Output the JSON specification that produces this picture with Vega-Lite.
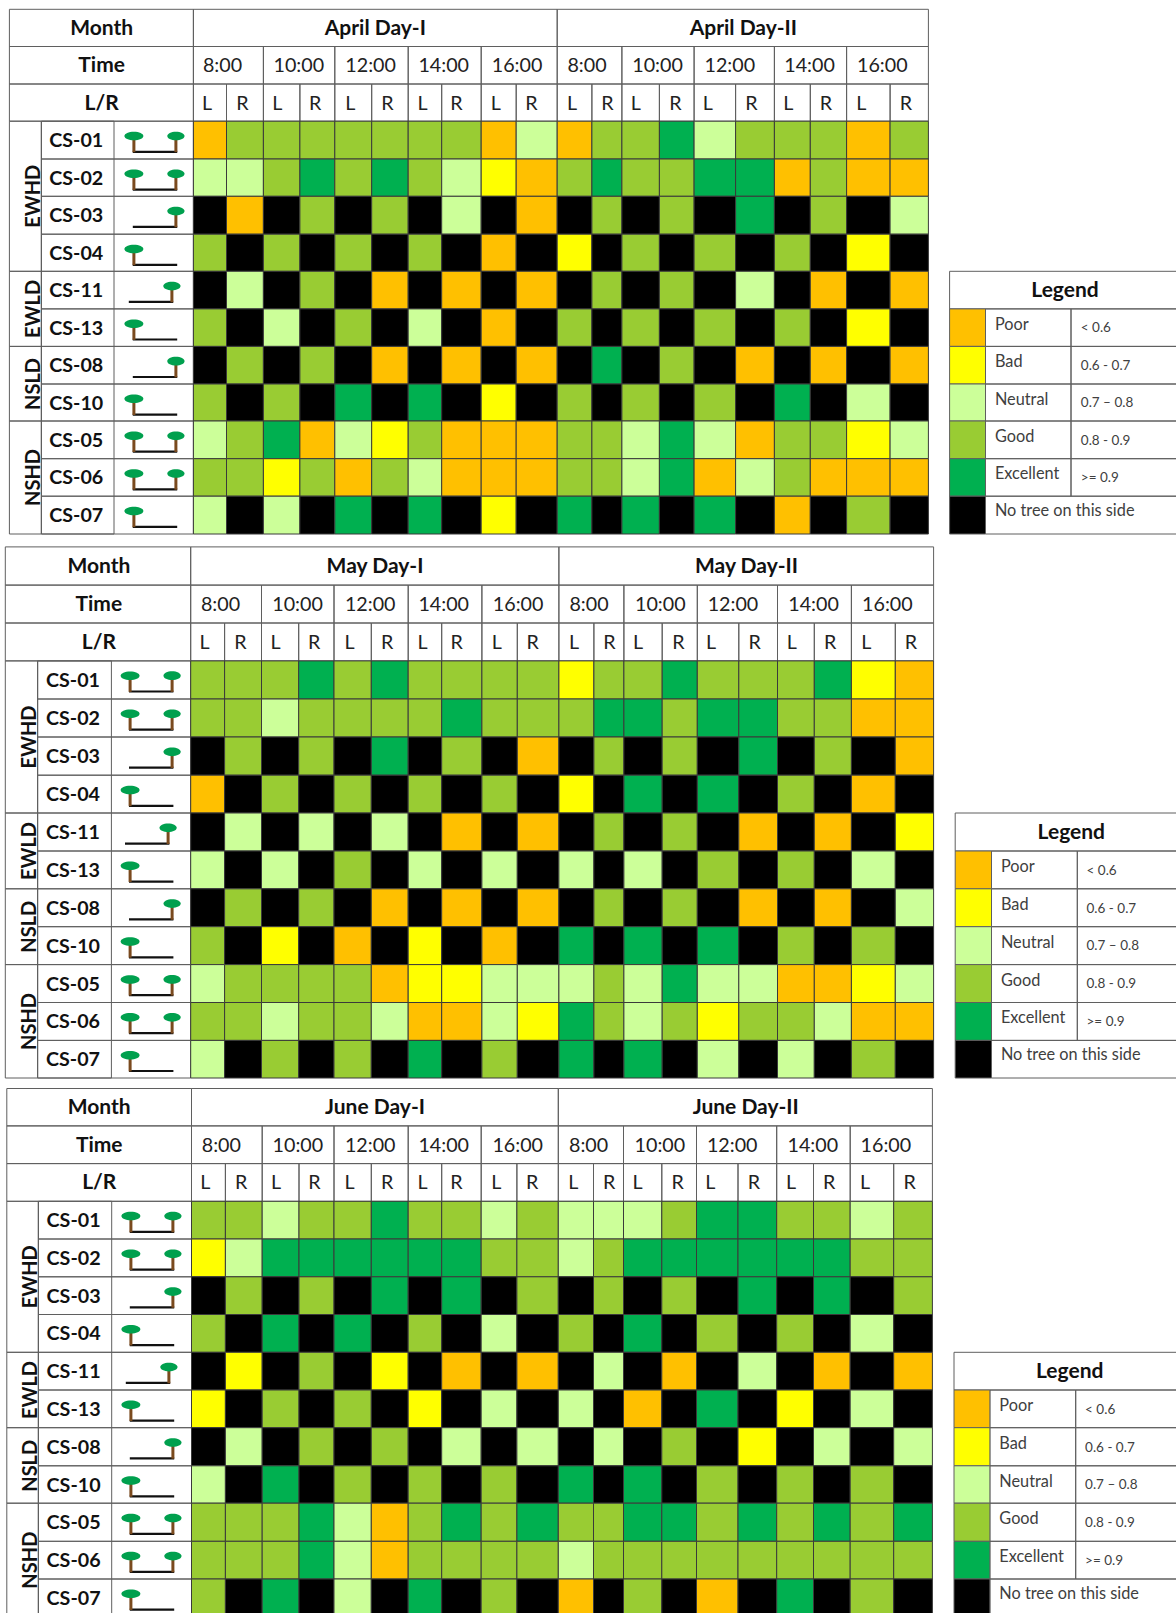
{"$schema":"https://vega.github.io/schema/vega-lite/v6.json","width":1176,"height":1613,"padding":0,"autosize":{"type":"none"},"background":"white","config":{"view":{"stroke":null}},
"datasets":{
"cells":[
{"c":3,"r":3,"v":"Poor"},{"c":4,"r":3,"v":"Good"},{"c":5,"r":3,"v":"Good"},{"c":6,"r":3,"v":"Good"},{"c":7,"r":3,"v":"Good"},{"c":8,"r":3,"v":"Good"},{"c":9,"r":3,"v":"Good"},{"c":10,"r":3,"v":"Good"},{"c":11,"r":3,"v":"Poor"},{"c":12,"r":3,"v":"Neutral"},{"c":13,"r":3,"v":"Poor"},{"c":14,"r":3,"v":"Good"},{"c":15,"r":3,"v":"Good"},{"c":16,"r":3,"v":"Excellent"},{"c":17,"r":3,"v":"Neutral"},{"c":18,"r":3,"v":"Good"},{"c":19,"r":3,"v":"Good"},{"c":20,"r":3,"v":"Good"},{"c":21,"r":3,"v":"Poor"},{"c":22,"r":3,"v":"Good"},
{"c":3,"r":4,"v":"Neutral"},{"c":4,"r":4,"v":"Neutral"},{"c":5,"r":4,"v":"Good"},{"c":6,"r":4,"v":"Excellent"},{"c":7,"r":4,"v":"Good"},{"c":8,"r":4,"v":"Excellent"},{"c":9,"r":4,"v":"Good"},{"c":10,"r":4,"v":"Neutral"},{"c":11,"r":4,"v":"Bad"},{"c":12,"r":4,"v":"Poor"},{"c":13,"r":4,"v":"Good"},{"c":14,"r":4,"v":"Excellent"},{"c":15,"r":4,"v":"Good"},{"c":16,"r":4,"v":"Good"},{"c":17,"r":4,"v":"Excellent"},{"c":18,"r":4,"v":"Excellent"},{"c":19,"r":4,"v":"Poor"},{"c":20,"r":4,"v":"Good"},{"c":21,"r":4,"v":"Poor"},{"c":22,"r":4,"v":"Poor"},
{"c":3,"r":5,"v":"None"},{"c":4,"r":5,"v":"Poor"},{"c":5,"r":5,"v":"None"},{"c":6,"r":5,"v":"Good"},{"c":7,"r":5,"v":"None"},{"c":8,"r":5,"v":"Good"},{"c":9,"r":5,"v":"None"},{"c":10,"r":5,"v":"Neutral"},{"c":11,"r":5,"v":"None"},{"c":12,"r":5,"v":"Poor"},{"c":13,"r":5,"v":"None"},{"c":14,"r":5,"v":"Good"},{"c":15,"r":5,"v":"None"},{"c":16,"r":5,"v":"Good"},{"c":17,"r":5,"v":"None"},{"c":18,"r":5,"v":"Excellent"},{"c":19,"r":5,"v":"None"},{"c":20,"r":5,"v":"Good"},{"c":21,"r":5,"v":"None"},{"c":22,"r":5,"v":"Neutral"},
{"c":3,"r":6,"v":"Good"},{"c":4,"r":6,"v":"None"},{"c":5,"r":6,"v":"Good"},{"c":6,"r":6,"v":"None"},{"c":7,"r":6,"v":"Good"},{"c":8,"r":6,"v":"None"},{"c":9,"r":6,"v":"Good"},{"c":10,"r":6,"v":"None"},{"c":11,"r":6,"v":"Poor"},{"c":12,"r":6,"v":"None"},{"c":13,"r":6,"v":"Bad"},{"c":14,"r":6,"v":"None"},{"c":15,"r":6,"v":"Good"},{"c":16,"r":6,"v":"None"},{"c":17,"r":6,"v":"Good"},{"c":18,"r":6,"v":"None"},{"c":19,"r":6,"v":"Good"},{"c":20,"r":6,"v":"None"},{"c":21,"r":6,"v":"Bad"},{"c":22,"r":6,"v":"None"},
{"c":3,"r":7,"v":"None"},{"c":4,"r":7,"v":"Neutral"},{"c":5,"r":7,"v":"None"},{"c":6,"r":7,"v":"Good"},{"c":7,"r":7,"v":"None"},{"c":8,"r":7,"v":"Poor"},{"c":9,"r":7,"v":"None"},{"c":10,"r":7,"v":"Poor"},{"c":11,"r":7,"v":"None"},{"c":12,"r":7,"v":"Poor"},{"c":13,"r":7,"v":"None"},{"c":14,"r":7,"v":"Good"},{"c":15,"r":7,"v":"None"},{"c":16,"r":7,"v":"Good"},{"c":17,"r":7,"v":"None"},{"c":18,"r":7,"v":"Neutral"},{"c":19,"r":7,"v":"None"},{"c":20,"r":7,"v":"Poor"},{"c":21,"r":7,"v":"None"},{"c":22,"r":7,"v":"Poor"},
{"c":3,"r":8,"v":"Good"},{"c":4,"r":8,"v":"None"},{"c":5,"r":8,"v":"Neutral"},{"c":6,"r":8,"v":"None"},{"c":7,"r":8,"v":"Good"},{"c":8,"r":8,"v":"None"},{"c":9,"r":8,"v":"Neutral"},{"c":10,"r":8,"v":"None"},{"c":11,"r":8,"v":"Poor"},{"c":12,"r":8,"v":"None"},{"c":13,"r":8,"v":"Good"},{"c":14,"r":8,"v":"None"},{"c":15,"r":8,"v":"Good"},{"c":16,"r":8,"v":"None"},{"c":17,"r":8,"v":"Good"},{"c":18,"r":8,"v":"None"},{"c":19,"r":8,"v":"Good"},{"c":20,"r":8,"v":"None"},{"c":21,"r":8,"v":"Bad"},{"c":22,"r":8,"v":"None"},
{"c":3,"r":9,"v":"None"},{"c":4,"r":9,"v":"Good"},{"c":5,"r":9,"v":"None"},{"c":6,"r":9,"v":"Good"},{"c":7,"r":9,"v":"None"},{"c":8,"r":9,"v":"Poor"},{"c":9,"r":9,"v":"None"},{"c":10,"r":9,"v":"Poor"},{"c":11,"r":9,"v":"None"},{"c":12,"r":9,"v":"Poor"},{"c":13,"r":9,"v":"None"},{"c":14,"r":9,"v":"Excellent"},{"c":15,"r":9,"v":"None"},{"c":16,"r":9,"v":"Good"},{"c":17,"r":9,"v":"None"},{"c":18,"r":9,"v":"Poor"},{"c":19,"r":9,"v":"None"},{"c":20,"r":9,"v":"Poor"},{"c":21,"r":9,"v":"None"},{"c":22,"r":9,"v":"Poor"},
{"c":3,"r":10,"v":"Good"},{"c":4,"r":10,"v":"None"},{"c":5,"r":10,"v":"Good"},{"c":6,"r":10,"v":"None"},{"c":7,"r":10,"v":"Excellent"},{"c":8,"r":10,"v":"None"},{"c":9,"r":10,"v":"Excellent"},{"c":10,"r":10,"v":"None"},{"c":11,"r":10,"v":"Bad"},{"c":12,"r":10,"v":"None"},{"c":13,"r":10,"v":"Good"},{"c":14,"r":10,"v":"None"},{"c":15,"r":10,"v":"Good"},{"c":16,"r":10,"v":"None"},{"c":17,"r":10,"v":"Good"},{"c":18,"r":10,"v":"None"},{"c":19,"r":10,"v":"Excellent"},{"c":20,"r":10,"v":"None"},{"c":21,"r":10,"v":"Neutral"},{"c":22,"r":10,"v":"None"},
{"c":3,"r":11,"v":"Neutral"},{"c":4,"r":11,"v":"Good"},{"c":5,"r":11,"v":"Excellent"},{"c":6,"r":11,"v":"Poor"},{"c":7,"r":11,"v":"Neutral"},{"c":8,"r":11,"v":"Bad"},{"c":9,"r":11,"v":"Good"},{"c":10,"r":11,"v":"Poor"},{"c":11,"r":11,"v":"Poor"},{"c":12,"r":11,"v":"Poor"},{"c":13,"r":11,"v":"Good"},{"c":14,"r":11,"v":"Good"},{"c":15,"r":11,"v":"Neutral"},{"c":16,"r":11,"v":"Excellent"},{"c":17,"r":11,"v":"Neutral"},{"c":18,"r":11,"v":"Poor"},{"c":19,"r":11,"v":"Good"},{"c":20,"r":11,"v":"Good"},{"c":21,"r":11,"v":"Bad"},{"c":22,"r":11,"v":"Neutral"},
{"c":3,"r":12,"v":"Good"},{"c":4,"r":12,"v":"Good"},{"c":5,"r":12,"v":"Bad"},{"c":6,"r":12,"v":"Good"},{"c":7,"r":12,"v":"Poor"},{"c":8,"r":12,"v":"Good"},{"c":9,"r":12,"v":"Neutral"},{"c":10,"r":12,"v":"Poor"},{"c":11,"r":12,"v":"Poor"},{"c":12,"r":12,"v":"Poor"},{"c":13,"r":12,"v":"Good"},{"c":14,"r":12,"v":"Good"},{"c":15,"r":12,"v":"Neutral"},{"c":16,"r":12,"v":"Excellent"},{"c":17,"r":12,"v":"Poor"},{"c":18,"r":12,"v":"Neutral"},{"c":19,"r":12,"v":"Good"},{"c":20,"r":12,"v":"Poor"},{"c":21,"r":12,"v":"Poor"},{"c":22,"r":12,"v":"Poor"},
{"c":3,"r":13,"v":"Neutral"},{"c":4,"r":13,"v":"None"},{"c":5,"r":13,"v":"Neutral"},{"c":6,"r":13,"v":"None"},{"c":7,"r":13,"v":"Excellent"},{"c":8,"r":13,"v":"None"},{"c":9,"r":13,"v":"Excellent"},{"c":10,"r":13,"v":"None"},{"c":11,"r":13,"v":"Bad"},{"c":12,"r":13,"v":"None"},{"c":13,"r":13,"v":"Excellent"},{"c":14,"r":13,"v":"None"},{"c":15,"r":13,"v":"Excellent"},{"c":16,"r":13,"v":"None"},{"c":17,"r":13,"v":"Excellent"},{"c":18,"r":13,"v":"None"},{"c":19,"r":13,"v":"Poor"},{"c":20,"r":13,"v":"None"},{"c":21,"r":13,"v":"Good"},{"c":22,"r":13,"v":"None"},
{"c":103,"r":18,"v":"Good"},{"c":104,"r":18,"v":"Good"},{"c":105,"r":18,"v":"Good"},{"c":106,"r":18,"v":"Excellent"},{"c":107,"r":18,"v":"Good"},{"c":108,"r":18,"v":"Excellent"},{"c":109,"r":18,"v":"Good"},{"c":110,"r":18,"v":"Good"},{"c":111,"r":18,"v":"Good"},{"c":112,"r":18,"v":"Good"},{"c":113,"r":18,"v":"Bad"},{"c":114,"r":18,"v":"Good"},{"c":115,"r":18,"v":"Good"},{"c":116,"r":18,"v":"Excellent"},{"c":117,"r":18,"v":"Good"},{"c":118,"r":18,"v":"Good"},{"c":119,"r":18,"v":"Good"},{"c":120,"r":18,"v":"Excellent"},{"c":121,"r":18,"v":"Bad"},{"c":122,"r":18,"v":"Poor"},
{"c":103,"r":19,"v":"Good"},{"c":104,"r":19,"v":"Good"},{"c":105,"r":19,"v":"Neutral"},{"c":106,"r":19,"v":"Good"},{"c":107,"r":19,"v":"Good"},{"c":108,"r":19,"v":"Good"},{"c":109,"r":19,"v":"Good"},{"c":110,"r":19,"v":"Excellent"},{"c":111,"r":19,"v":"Good"},{"c":112,"r":19,"v":"Good"},{"c":113,"r":19,"v":"Good"},{"c":114,"r":19,"v":"Excellent"},{"c":115,"r":19,"v":"Excellent"},{"c":116,"r":19,"v":"Good"},{"c":117,"r":19,"v":"Excellent"},{"c":118,"r":19,"v":"Excellent"},{"c":119,"r":19,"v":"Good"},{"c":120,"r":19,"v":"Good"},{"c":121,"r":19,"v":"Poor"},{"c":122,"r":19,"v":"Poor"},
{"c":103,"r":20,"v":"None"},{"c":104,"r":20,"v":"Good"},{"c":105,"r":20,"v":"None"},{"c":106,"r":20,"v":"Good"},{"c":107,"r":20,"v":"None"},{"c":108,"r":20,"v":"Excellent"},{"c":109,"r":20,"v":"None"},{"c":110,"r":20,"v":"Good"},{"c":111,"r":20,"v":"None"},{"c":112,"r":20,"v":"Poor"},{"c":113,"r":20,"v":"None"},{"c":114,"r":20,"v":"Good"},{"c":115,"r":20,"v":"None"},{"c":116,"r":20,"v":"Good"},{"c":117,"r":20,"v":"None"},{"c":118,"r":20,"v":"Excellent"},{"c":119,"r":20,"v":"None"},{"c":120,"r":20,"v":"Good"},{"c":121,"r":20,"v":"None"},{"c":122,"r":20,"v":"Poor"},
{"c":103,"r":21,"v":"Poor"},{"c":104,"r":21,"v":"None"},{"c":105,"r":21,"v":"Good"},{"c":106,"r":21,"v":"None"},{"c":107,"r":21,"v":"Good"},{"c":108,"r":21,"v":"None"},{"c":109,"r":21,"v":"Good"},{"c":110,"r":21,"v":"None"},{"c":111,"r":21,"v":"Good"},{"c":112,"r":21,"v":"None"},{"c":113,"r":21,"v":"Bad"},{"c":114,"r":21,"v":"None"},{"c":115,"r":21,"v":"Excellent"},{"c":116,"r":21,"v":"None"},{"c":117,"r":21,"v":"Excellent"},{"c":118,"r":21,"v":"None"},{"c":119,"r":21,"v":"Good"},{"c":120,"r":21,"v":"None"},{"c":121,"r":21,"v":"Poor"},{"c":122,"r":21,"v":"None"},
{"c":103,"r":22,"v":"None"},{"c":104,"r":22,"v":"Neutral"},{"c":105,"r":22,"v":"None"},{"c":106,"r":22,"v":"Neutral"},{"c":107,"r":22,"v":"None"},{"c":108,"r":22,"v":"Neutral"},{"c":109,"r":22,"v":"None"},{"c":110,"r":22,"v":"Poor"},{"c":111,"r":22,"v":"None"},{"c":112,"r":22,"v":"Poor"},{"c":113,"r":22,"v":"None"},{"c":114,"r":22,"v":"Good"},{"c":115,"r":22,"v":"None"},{"c":116,"r":22,"v":"Good"},{"c":117,"r":22,"v":"None"},{"c":118,"r":22,"v":"Poor"},{"c":119,"r":22,"v":"None"},{"c":120,"r":22,"v":"Poor"},{"c":121,"r":22,"v":"None"},{"c":122,"r":22,"v":"Bad"},
{"c":103,"r":23,"v":"Neutral"},{"c":104,"r":23,"v":"None"},{"c":105,"r":23,"v":"Neutral"},{"c":106,"r":23,"v":"None"},{"c":107,"r":23,"v":"Good"},{"c":108,"r":23,"v":"None"},{"c":109,"r":23,"v":"Neutral"},{"c":110,"r":23,"v":"None"},{"c":111,"r":23,"v":"Neutral"},{"c":112,"r":23,"v":"None"},{"c":113,"r":23,"v":"Neutral"},{"c":114,"r":23,"v":"None"},{"c":115,"r":23,"v":"Neutral"},{"c":116,"r":23,"v":"None"},{"c":117,"r":23,"v":"Good"},{"c":118,"r":23,"v":"None"},{"c":119,"r":23,"v":"Good"},{"c":120,"r":23,"v":"None"},{"c":121,"r":23,"v":"Neutral"},{"c":122,"r":23,"v":"None"},
{"c":103,"r":24,"v":"None"},{"c":104,"r":24,"v":"Good"},{"c":105,"r":24,"v":"None"},{"c":106,"r":24,"v":"Good"},{"c":107,"r":24,"v":"None"},{"c":108,"r":24,"v":"Poor"},{"c":109,"r":24,"v":"None"},{"c":110,"r":24,"v":"Poor"},{"c":111,"r":24,"v":"None"},{"c":112,"r":24,"v":"Poor"},{"c":113,"r":24,"v":"None"},{"c":114,"r":24,"v":"Good"},{"c":115,"r":24,"v":"None"},{"c":116,"r":24,"v":"Good"},{"c":117,"r":24,"v":"None"},{"c":118,"r":24,"v":"Poor"},{"c":119,"r":24,"v":"None"},{"c":120,"r":24,"v":"Poor"},{"c":121,"r":24,"v":"None"},{"c":122,"r":24,"v":"Neutral"},
{"c":103,"r":25,"v":"Good"},{"c":104,"r":25,"v":"None"},{"c":105,"r":25,"v":"Bad"},{"c":106,"r":25,"v":"None"},{"c":107,"r":25,"v":"Poor"},{"c":108,"r":25,"v":"None"},{"c":109,"r":25,"v":"Bad"},{"c":110,"r":25,"v":"None"},{"c":111,"r":25,"v":"Poor"},{"c":112,"r":25,"v":"None"},{"c":113,"r":25,"v":"Excellent"},{"c":114,"r":25,"v":"None"},{"c":115,"r":25,"v":"Excellent"},{"c":116,"r":25,"v":"None"},{"c":117,"r":25,"v":"Excellent"},{"c":118,"r":25,"v":"None"},{"c":119,"r":25,"v":"Good"},{"c":120,"r":25,"v":"None"},{"c":121,"r":25,"v":"Good"},{"c":122,"r":25,"v":"None"},
{"c":103,"r":26,"v":"Neutral"},{"c":104,"r":26,"v":"Good"},{"c":105,"r":26,"v":"Good"},{"c":106,"r":26,"v":"Good"},{"c":107,"r":26,"v":"Good"},{"c":108,"r":26,"v":"Poor"},{"c":109,"r":26,"v":"Bad"},{"c":110,"r":26,"v":"Bad"},{"c":111,"r":26,"v":"Neutral"},{"c":112,"r":26,"v":"Neutral"},{"c":113,"r":26,"v":"Neutral"},{"c":114,"r":26,"v":"Good"},{"c":115,"r":26,"v":"Neutral"},{"c":116,"r":26,"v":"Excellent"},{"c":117,"r":26,"v":"Neutral"},{"c":118,"r":26,"v":"Neutral"},{"c":119,"r":26,"v":"Poor"},{"c":120,"r":26,"v":"Poor"},{"c":121,"r":26,"v":"Bad"},{"c":122,"r":26,"v":"Neutral"},
{"c":103,"r":27,"v":"Good"},{"c":104,"r":27,"v":"Good"},{"c":105,"r":27,"v":"Neutral"},{"c":106,"r":27,"v":"Good"},{"c":107,"r":27,"v":"Good"},{"c":108,"r":27,"v":"Neutral"},{"c":109,"r":27,"v":"Poor"},{"c":110,"r":27,"v":"Poor"},{"c":111,"r":27,"v":"Neutral"},{"c":112,"r":27,"v":"Bad"},{"c":113,"r":27,"v":"Excellent"},{"c":114,"r":27,"v":"Good"},{"c":115,"r":27,"v":"Neutral"},{"c":116,"r":27,"v":"Good"},{"c":117,"r":27,"v":"Bad"},{"c":118,"r":27,"v":"Good"},{"c":119,"r":27,"v":"Good"},{"c":120,"r":27,"v":"Neutral"},{"c":121,"r":27,"v":"Poor"},{"c":122,"r":27,"v":"Poor"},
{"c":103,"r":28,"v":"Neutral"},{"c":104,"r":28,"v":"None"},{"c":105,"r":28,"v":"Good"},{"c":106,"r":28,"v":"None"},{"c":107,"r":28,"v":"Good"},{"c":108,"r":28,"v":"None"},{"c":109,"r":28,"v":"Excellent"},{"c":110,"r":28,"v":"None"},{"c":111,"r":28,"v":"Good"},{"c":112,"r":28,"v":"None"},{"c":113,"r":28,"v":"Excellent"},{"c":114,"r":28,"v":"None"},{"c":115,"r":28,"v":"Excellent"},{"c":116,"r":28,"v":"None"},{"c":117,"r":28,"v":"Neutral"},{"c":118,"r":28,"v":"None"},{"c":119,"r":28,"v":"Neutral"},{"c":120,"r":28,"v":"None"},{"c":121,"r":28,"v":"Good"},{"c":122,"r":28,"v":"None"},
{"c":203,"r":33,"v":"Good"},{"c":204,"r":33,"v":"Good"},{"c":205,"r":33,"v":"Neutral"},{"c":206,"r":33,"v":"Good"},{"c":207,"r":33,"v":"Good"},{"c":208,"r":33,"v":"Excellent"},{"c":209,"r":33,"v":"Good"},{"c":210,"r":33,"v":"Good"},{"c":211,"r":33,"v":"Neutral"},{"c":212,"r":33,"v":"Good"},{"c":213,"r":33,"v":"Neutral"},{"c":214,"r":33,"v":"Neutral"},{"c":215,"r":33,"v":"Neutral"},{"c":216,"r":33,"v":"Good"},{"c":217,"r":33,"v":"Excellent"},{"c":218,"r":33,"v":"Excellent"},{"c":219,"r":33,"v":"Good"},{"c":220,"r":33,"v":"Good"},{"c":221,"r":33,"v":"Neutral"},{"c":222,"r":33,"v":"Good"},
{"c":203,"r":34,"v":"Bad"},{"c":204,"r":34,"v":"Neutral"},{"c":205,"r":34,"v":"Excellent"},{"c":206,"r":34,"v":"Excellent"},{"c":207,"r":34,"v":"Excellent"},{"c":208,"r":34,"v":"Excellent"},{"c":209,"r":34,"v":"Excellent"},{"c":210,"r":34,"v":"Excellent"},{"c":211,"r":34,"v":"Good"},{"c":212,"r":34,"v":"Good"},{"c":213,"r":34,"v":"Neutral"},{"c":214,"r":34,"v":"Good"},{"c":215,"r":34,"v":"Excellent"},{"c":216,"r":34,"v":"Excellent"},{"c":217,"r":34,"v":"Excellent"},{"c":218,"r":34,"v":"Excellent"},{"c":219,"r":34,"v":"Excellent"},{"c":220,"r":34,"v":"Excellent"},{"c":221,"r":34,"v":"Good"},{"c":222,"r":34,"v":"Good"},
{"c":203,"r":35,"v":"None"},{"c":204,"r":35,"v":"Good"},{"c":205,"r":35,"v":"None"},{"c":206,"r":35,"v":"Good"},{"c":207,"r":35,"v":"None"},{"c":208,"r":35,"v":"Excellent"},{"c":209,"r":35,"v":"None"},{"c":210,"r":35,"v":"Excellent"},{"c":211,"r":35,"v":"None"},{"c":212,"r":35,"v":"Good"},{"c":213,"r":35,"v":"None"},{"c":214,"r":35,"v":"Good"},{"c":215,"r":35,"v":"None"},{"c":216,"r":35,"v":"Good"},{"c":217,"r":35,"v":"None"},{"c":218,"r":35,"v":"Excellent"},{"c":219,"r":35,"v":"None"},{"c":220,"r":35,"v":"Excellent"},{"c":221,"r":35,"v":"None"},{"c":222,"r":35,"v":"Good"},
{"c":203,"r":36,"v":"Good"},{"c":204,"r":36,"v":"None"},{"c":205,"r":36,"v":"Excellent"},{"c":206,"r":36,"v":"None"},{"c":207,"r":36,"v":"Excellent"},{"c":208,"r":36,"v":"None"},{"c":209,"r":36,"v":"Good"},{"c":210,"r":36,"v":"None"},{"c":211,"r":36,"v":"Neutral"},{"c":212,"r":36,"v":"None"},{"c":213,"r":36,"v":"Good"},{"c":214,"r":36,"v":"None"},{"c":215,"r":36,"v":"Excellent"},{"c":216,"r":36,"v":"None"},{"c":217,"r":36,"v":"Good"},{"c":218,"r":36,"v":"None"},{"c":219,"r":36,"v":"Good"},{"c":220,"r":36,"v":"None"},{"c":221,"r":36,"v":"Neutral"},{"c":222,"r":36,"v":"None"},
{"c":203,"r":37,"v":"None"},{"c":204,"r":37,"v":"Bad"},{"c":205,"r":37,"v":"None"},{"c":206,"r":37,"v":"Good"},{"c":207,"r":37,"v":"None"},{"c":208,"r":37,"v":"Bad"},{"c":209,"r":37,"v":"None"},{"c":210,"r":37,"v":"Poor"},{"c":211,"r":37,"v":"None"},{"c":212,"r":37,"v":"Poor"},{"c":213,"r":37,"v":"None"},{"c":214,"r":37,"v":"Neutral"},{"c":215,"r":37,"v":"None"},{"c":216,"r":37,"v":"Poor"},{"c":217,"r":37,"v":"None"},{"c":218,"r":37,"v":"Neutral"},{"c":219,"r":37,"v":"None"},{"c":220,"r":37,"v":"Poor"},{"c":221,"r":37,"v":"None"},{"c":222,"r":37,"v":"Poor"},
{"c":203,"r":38,"v":"Bad"},{"c":204,"r":38,"v":"None"},{"c":205,"r":38,"v":"Good"},{"c":206,"r":38,"v":"None"},{"c":207,"r":38,"v":"Good"},{"c":208,"r":38,"v":"None"},{"c":209,"r":38,"v":"Bad"},{"c":210,"r":38,"v":"None"},{"c":211,"r":38,"v":"Neutral"},{"c":212,"r":38,"v":"None"},{"c":213,"r":38,"v":"Neutral"},{"c":214,"r":38,"v":"None"},{"c":215,"r":38,"v":"Poor"},{"c":216,"r":38,"v":"None"},{"c":217,"r":38,"v":"Excellent"},{"c":218,"r":38,"v":"None"},{"c":219,"r":38,"v":"Bad"},{"c":220,"r":38,"v":"None"},{"c":221,"r":38,"v":"Neutral"},{"c":222,"r":38,"v":"None"},
{"c":203,"r":39,"v":"None"},{"c":204,"r":39,"v":"Neutral"},{"c":205,"r":39,"v":"None"},{"c":206,"r":39,"v":"Good"},{"c":207,"r":39,"v":"None"},{"c":208,"r":39,"v":"Good"},{"c":209,"r":39,"v":"None"},{"c":210,"r":39,"v":"Neutral"},{"c":211,"r":39,"v":"None"},{"c":212,"r":39,"v":"Neutral"},{"c":213,"r":39,"v":"None"},{"c":214,"r":39,"v":"Neutral"},{"c":215,"r":39,"v":"None"},{"c":216,"r":39,"v":"Good"},{"c":217,"r":39,"v":"None"},{"c":218,"r":39,"v":"Bad"},{"c":219,"r":39,"v":"None"},{"c":220,"r":39,"v":"Neutral"},{"c":221,"r":39,"v":"None"},{"c":222,"r":39,"v":"Neutral"},
{"c":203,"r":40,"v":"Neutral"},{"c":204,"r":40,"v":"None"},{"c":205,"r":40,"v":"Excellent"},{"c":206,"r":40,"v":"None"},{"c":207,"r":40,"v":"Good"},{"c":208,"r":40,"v":"None"},{"c":209,"r":40,"v":"Good"},{"c":210,"r":40,"v":"None"},{"c":211,"r":40,"v":"Good"},{"c":212,"r":40,"v":"None"},{"c":213,"r":40,"v":"Excellent"},{"c":214,"r":40,"v":"None"},{"c":215,"r":40,"v":"Excellent"},{"c":216,"r":40,"v":"None"},{"c":217,"r":40,"v":"Good"},{"c":218,"r":40,"v":"None"},{"c":219,"r":40,"v":"Good"},{"c":220,"r":40,"v":"None"},{"c":221,"r":40,"v":"Good"},{"c":222,"r":40,"v":"None"},
{"c":203,"r":41,"v":"Good"},{"c":204,"r":41,"v":"Good"},{"c":205,"r":41,"v":"Good"},{"c":206,"r":41,"v":"Excellent"},{"c":207,"r":41,"v":"Neutral"},{"c":208,"r":41,"v":"Poor"},{"c":209,"r":41,"v":"Good"},{"c":210,"r":41,"v":"Excellent"},{"c":211,"r":41,"v":"Good"},{"c":212,"r":41,"v":"Excellent"},{"c":213,"r":41,"v":"Good"},{"c":214,"r":41,"v":"Good"},{"c":215,"r":41,"v":"Excellent"},{"c":216,"r":41,"v":"Excellent"},{"c":217,"r":41,"v":"Good"},{"c":218,"r":41,"v":"Excellent"},{"c":219,"r":41,"v":"Good"},{"c":220,"r":41,"v":"Excellent"},{"c":221,"r":41,"v":"Good"},{"c":222,"r":41,"v":"Excellent"},
{"c":203,"r":42,"v":"Good"},{"c":204,"r":42,"v":"Good"},{"c":205,"r":42,"v":"Good"},{"c":206,"r":42,"v":"Excellent"},{"c":207,"r":42,"v":"Neutral"},{"c":208,"r":42,"v":"Poor"},{"c":209,"r":42,"v":"Good"},{"c":210,"r":42,"v":"Good"},{"c":211,"r":42,"v":"Good"},{"c":212,"r":42,"v":"Good"},{"c":213,"r":42,"v":"Neutral"},{"c":214,"r":42,"v":"Good"},{"c":215,"r":42,"v":"Good"},{"c":216,"r":42,"v":"Good"},{"c":217,"r":42,"v":"Good"},{"c":218,"r":42,"v":"Good"},{"c":219,"r":42,"v":"Good"},{"c":220,"r":42,"v":"Good"},{"c":221,"r":42,"v":"Good"},{"c":222,"r":42,"v":"Good"},
{"c":203,"r":43,"v":"Good"},{"c":204,"r":43,"v":"None"},{"c":205,"r":43,"v":"Excellent"},{"c":206,"r":43,"v":"None"},{"c":207,"r":43,"v":"Neutral"},{"c":208,"r":43,"v":"None"},{"c":209,"r":43,"v":"Excellent"},{"c":210,"r":43,"v":"None"},{"c":211,"r":43,"v":"Good"},{"c":212,"r":43,"v":"None"},{"c":213,"r":43,"v":"Poor"},{"c":214,"r":43,"v":"None"},{"c":215,"r":43,"v":"Good"},{"c":216,"r":43,"v":"None"},{"c":217,"r":43,"v":"Poor"},{"c":218,"r":43,"v":"None"},{"c":219,"r":43,"v":"Excellent"},{"c":220,"r":43,"v":"None"},{"c":221,"r":43,"v":"Good"},{"c":222,"r":43,"v":"None"}
],
"columns":[
{"c":3,"c2":4,"r":2,"r2":3},{"c":4,"c2":5,"r":2,"r2":3},{"c":5,"c2":6,"r":2,"r2":3},{"c":6,"c2":7,"r":2,"r2":3},{"c":7,"c2":8,"r":2,"r2":3},{"c":8,"c2":9,"r":2,"r2":3},{"c":9,"c2":10,"r":2,"r2":3},{"c":10,"c2":11,"r":2,"r2":3},{"c":11,"c2":12,"r":2,"r2":3},{"c":12,"c2":13,"r":2,"r2":3},{"c":13,"c2":14,"r":2,"r2":3},{"c":14,"c2":15,"r":2,"r2":3},{"c":15,"c2":16,"r":2,"r2":3},{"c":16,"c2":17,"r":2,"r2":3},{"c":17,"c2":18,"r":2,"r2":3},{"c":18,"c2":19,"r":2,"r2":3},{"c":19,"c2":20,"r":2,"r2":3},{"c":20,"c2":21,"r":2,"r2":3},{"c":21,"c2":22,"r":2,"r2":3},{"c":22,"c2":23,"r":2,"r2":3},
{"c":103,"c2":104,"r":17,"r2":18},{"c":104,"c2":105,"r":17,"r2":18},{"c":105,"c2":106,"r":17,"r2":18},{"c":106,"c2":107,"r":17,"r2":18},{"c":107,"c2":108,"r":17,"r2":18},{"c":108,"c2":109,"r":17,"r2":18},{"c":109,"c2":110,"r":17,"r2":18},{"c":110,"c2":111,"r":17,"r2":18},{"c":111,"c2":112,"r":17,"r2":18},{"c":112,"c2":113,"r":17,"r2":18},{"c":113,"c2":114,"r":17,"r2":18},{"c":114,"c2":115,"r":17,"r2":18},{"c":115,"c2":116,"r":17,"r2":18},{"c":116,"c2":117,"r":17,"r2":18},{"c":117,"c2":118,"r":17,"r2":18},{"c":118,"c2":119,"r":17,"r2":18},{"c":119,"c2":120,"r":17,"r2":18},{"c":120,"c2":121,"r":17,"r2":18},{"c":121,"c2":122,"r":17,"r2":18},{"c":122,"c2":123,"r":17,"r2":18},
{"c":203,"c2":204,"r":32,"r2":33},{"c":204,"c2":205,"r":32,"r2":33},{"c":205,"c2":206,"r":32,"r2":33},{"c":206,"c2":207,"r":32,"r2":33},{"c":207,"c2":208,"r":32,"r2":33},{"c":208,"c2":209,"r":32,"r2":33},{"c":209,"c2":210,"r":32,"r2":33},{"c":210,"c2":211,"r":32,"r2":33},{"c":211,"c2":212,"r":32,"r2":33},{"c":212,"c2":213,"r":32,"r2":33},{"c":213,"c2":214,"r":32,"r2":33},{"c":214,"c2":215,"r":32,"r2":33},{"c":215,"c2":216,"r":32,"r2":33},{"c":216,"c2":217,"r":32,"r2":33},{"c":217,"c2":218,"r":32,"r2":33},{"c":218,"c2":219,"r":32,"r2":33},{"c":219,"c2":220,"r":32,"r2":33},{"c":220,"c2":221,"r":32,"r2":33},{"c":221,"c2":222,"r":32,"r2":33},{"c":222,"c2":223,"r":32,"r2":33}
],
"sites":[
{"site":"CS-01","c":1,"c2":3,"r":3,"r2":4,"L":1,"R":1},{"site":"CS-02","c":1,"c2":3,"r":4,"r2":5,"L":1,"R":1},{"site":"CS-03","c":1,"c2":3,"r":5,"r2":6,"L":0,"R":1},{"site":"CS-04","c":1,"c2":3,"r":6,"r2":7,"L":1,"R":0},{"site":"CS-11","c":1,"c2":3,"r":7,"r2":8,"L":0,"R":1},{"site":"CS-13","c":1,"c2":3,"r":8,"r2":9,"L":1,"R":0},{"site":"CS-08","c":1,"c2":3,"r":9,"r2":10,"L":0,"R":1},{"site":"CS-10","c":1,"c2":3,"r":10,"r2":11,"L":1,"R":0},{"site":"CS-05","c":1,"c2":3,"r":11,"r2":12,"L":1,"R":1},{"site":"CS-06","c":1,"c2":3,"r":12,"r2":13,"L":1,"R":1},{"site":"CS-07","c":1,"c2":3,"r":13,"r2":14,"L":1,"R":0},
{"site":"CS-01","c":101,"c2":103,"r":18,"r2":19,"L":1,"R":1},{"site":"CS-02","c":101,"c2":103,"r":19,"r2":20,"L":1,"R":1},{"site":"CS-03","c":101,"c2":103,"r":20,"r2":21,"L":0,"R":1},{"site":"CS-04","c":101,"c2":103,"r":21,"r2":22,"L":1,"R":0},{"site":"CS-11","c":101,"c2":103,"r":22,"r2":23,"L":0,"R":1},{"site":"CS-13","c":101,"c2":103,"r":23,"r2":24,"L":1,"R":0},{"site":"CS-08","c":101,"c2":103,"r":24,"r2":25,"L":0,"R":1},{"site":"CS-10","c":101,"c2":103,"r":25,"r2":26,"L":1,"R":0},{"site":"CS-05","c":101,"c2":103,"r":26,"r2":27,"L":1,"R":1},{"site":"CS-06","c":101,"c2":103,"r":27,"r2":28,"L":1,"R":1},{"site":"CS-07","c":101,"c2":103,"r":28,"r2":29,"L":1,"R":0},
{"site":"CS-01","c":201,"c2":203,"r":33,"r2":34,"L":1,"R":1},{"site":"CS-02","c":201,"c2":203,"r":34,"r2":35,"L":1,"R":1},{"site":"CS-03","c":201,"c2":203,"r":35,"r2":36,"L":0,"R":1},{"site":"CS-04","c":201,"c2":203,"r":36,"r2":37,"L":1,"R":0},{"site":"CS-11","c":201,"c2":203,"r":37,"r2":38,"L":0,"R":1},{"site":"CS-13","c":201,"c2":203,"r":38,"r2":39,"L":1,"R":0},{"site":"CS-08","c":201,"c2":203,"r":39,"r2":40,"L":0,"R":1},{"site":"CS-10","c":201,"c2":203,"r":40,"r2":41,"L":1,"R":0},{"site":"CS-05","c":201,"c2":203,"r":41,"r2":42,"L":1,"R":1},{"site":"CS-06","c":201,"c2":203,"r":42,"r2":43,"L":1,"R":1},{"site":"CS-07","c":201,"c2":203,"r":43,"r2":44,"L":1,"R":0}
],
"boxes":[
{"c":0,"c2":3,"r":0,"r2":1},{"c":0,"c2":3,"r":1,"r2":2},{"c":0,"c2":3,"r":2,"r2":3},{"c":3,"c2":13,"r":0,"r2":1},{"c":13,"c2":23,"r":0,"r2":1},{"c":3,"c2":5,"r":1,"r2":2},{"c":5,"c2":7,"r":1,"r2":2},{"c":7,"c2":9,"r":1,"r2":2},{"c":9,"c2":11,"r":1,"r2":2},{"c":11,"c2":13,"r":1,"r2":2},{"c":13,"c2":15,"r":1,"r2":2},{"c":15,"c2":17,"r":1,"r2":2},{"c":17,"c2":19,"r":1,"r2":2},{"c":19,"c2":21,"r":1,"r2":2},{"c":21,"c2":23,"r":1,"r2":2},{"c":0,"c2":1,"r":3,"r2":7},{"c":0,"c2":1,"r":7,"r2":9},{"c":0,"c2":1,"r":9,"r2":11},{"c":0,"c2":1,"r":11,"r2":14},{"c":1,"c2":2,"r":3,"r2":14},{"c":24,"c2":27,"r":7,"r2":8},{"c":25,"c2":26,"r":8,"r2":9},{"c":25,"c2":26,"r":9,"r2":10},{"c":25,"c2":26,"r":10,"r2":11},{"c":25,"c2":26,"r":11,"r2":12},{"c":25,"c2":26,"r":12,"r2":13},{"c":26,"c2":27,"r":8,"r2":9},{"c":26,"c2":27,"r":9,"r2":10},{"c":26,"c2":27,"r":10,"r2":11},{"c":26,"c2":27,"r":11,"r2":12},{"c":26,"c2":27,"r":12,"r2":13},{"c":25,"c2":27,"r":13,"r2":14},
{"c":100,"c2":103,"r":15,"r2":16},{"c":100,"c2":103,"r":16,"r2":17},{"c":100,"c2":103,"r":17,"r2":18},{"c":103,"c2":113,"r":15,"r2":16},{"c":113,"c2":123,"r":15,"r2":16},{"c":103,"c2":105,"r":16,"r2":17},{"c":105,"c2":107,"r":16,"r2":17},{"c":107,"c2":109,"r":16,"r2":17},{"c":109,"c2":111,"r":16,"r2":17},{"c":111,"c2":113,"r":16,"r2":17},{"c":113,"c2":115,"r":16,"r2":17},{"c":115,"c2":117,"r":16,"r2":17},{"c":117,"c2":119,"r":16,"r2":17},{"c":119,"c2":121,"r":16,"r2":17},{"c":121,"c2":123,"r":16,"r2":17},{"c":100,"c2":101,"r":18,"r2":22},{"c":100,"c2":101,"r":22,"r2":24},{"c":100,"c2":101,"r":24,"r2":26},{"c":100,"c2":101,"r":26,"r2":29},{"c":101,"c2":102,"r":18,"r2":29},{"c":124,"c2":127,"r":22,"r2":23},{"c":125,"c2":126,"r":23,"r2":24},{"c":125,"c2":126,"r":24,"r2":25},{"c":125,"c2":126,"r":25,"r2":26},{"c":125,"c2":126,"r":26,"r2":27},{"c":125,"c2":126,"r":27,"r2":28},{"c":126,"c2":127,"r":23,"r2":24},{"c":126,"c2":127,"r":24,"r2":25},{"c":126,"c2":127,"r":25,"r2":26},{"c":126,"c2":127,"r":26,"r2":27},{"c":126,"c2":127,"r":27,"r2":28},{"c":125,"c2":127,"r":28,"r2":29},
{"c":200,"c2":203,"r":30,"r2":31},{"c":200,"c2":203,"r":31,"r2":32},{"c":200,"c2":203,"r":32,"r2":33},{"c":203,"c2":213,"r":30,"r2":31},{"c":213,"c2":223,"r":30,"r2":31},{"c":203,"c2":205,"r":31,"r2":32},{"c":205,"c2":207,"r":31,"r2":32},{"c":207,"c2":209,"r":31,"r2":32},{"c":209,"c2":211,"r":31,"r2":32},{"c":211,"c2":213,"r":31,"r2":32},{"c":213,"c2":215,"r":31,"r2":32},{"c":215,"c2":217,"r":31,"r2":32},{"c":217,"c2":219,"r":31,"r2":32},{"c":219,"c2":221,"r":31,"r2":32},{"c":221,"c2":223,"r":31,"r2":32},{"c":200,"c2":201,"r":33,"r2":37},{"c":200,"c2":201,"r":37,"r2":39},{"c":200,"c2":201,"r":39,"r2":41},{"c":200,"c2":201,"r":41,"r2":44},{"c":201,"c2":202,"r":33,"r2":44},{"c":224,"c2":227,"r":37,"r2":38},{"c":225,"c2":226,"r":38,"r2":39},{"c":225,"c2":226,"r":39,"r2":40},{"c":225,"c2":226,"r":40,"r2":41},{"c":225,"c2":226,"r":41,"r2":42},{"c":225,"c2":226,"r":42,"r2":43},{"c":226,"c2":227,"r":38,"r2":39},{"c":226,"c2":227,"r":39,"r2":40},{"c":226,"c2":227,"r":40,"r2":41},{"c":226,"c2":227,"r":41,"r2":42},{"c":226,"c2":227,"r":42,"r2":43},{"c":225,"c2":227,"r":43,"r2":44}
],
"swatches":[
{"c":24,"c2":25,"r":8,"r2":9,"v":"Poor"},{"c":24,"c2":25,"r":9,"r2":10,"v":"Bad"},{"c":24,"c2":25,"r":10,"r2":11,"v":"Neutral"},{"c":24,"c2":25,"r":11,"r2":12,"v":"Good"},{"c":24,"c2":25,"r":12,"r2":13,"v":"Excellent"},{"c":24,"c2":25,"r":13,"r2":14,"v":"None"},
{"c":124,"c2":125,"r":23,"r2":24,"v":"Poor"},{"c":124,"c2":125,"r":24,"r2":25,"v":"Bad"},{"c":124,"c2":125,"r":25,"r2":26,"v":"Neutral"},{"c":124,"c2":125,"r":26,"r2":27,"v":"Good"},{"c":124,"c2":125,"r":27,"r2":28,"v":"Excellent"},{"c":124,"c2":125,"r":28,"r2":29,"v":"None"},
{"c":224,"c2":225,"r":38,"r2":39,"v":"Poor"},{"c":224,"c2":225,"r":39,"r2":40,"v":"Bad"},{"c":224,"c2":225,"r":40,"r2":41,"v":"Neutral"},{"c":224,"c2":225,"r":41,"r2":42,"v":"Good"},{"c":224,"c2":225,"r":42,"r2":43,"v":"Excellent"},{"c":224,"c2":225,"r":43,"r2":44,"v":"None"}
],
"labels":[
{"k":"b","t":"Month","c":1.83,"r":0.5},{"k":"b","t":"Time","c":1.83,"r":1.5},{"k":"b","t":"L/R","c":1.83,"r":2.5},{"k":"b","t":"April Day-I","c":8.1,"r":0.5},{"k":"b","t":"April Day-II","c":18.2,"r":0.5},
{"k":"n","t":"8:00","c":3.88,"r":1.5},{"k":"n","t":"10:00","c":5.97,"r":1.5},{"k":"n","t":"12:00","c":7.97,"r":1.5},{"k":"n","t":"14:00","c":10.05,"r":1.5},{"k":"n","t":"16:00","c":12.02,"r":1.5},{"k":"n","t":"8:00","c":13.86,"r":1.5},{"k":"n","t":"10:00","c":15.95,"r":1.5},{"k":"n","t":"12:00","c":17.86,"r":1.5},{"k":"n","t":"14:00","c":19.98,"r":1.5},{"k":"n","t":"16:00","c":21.82,"r":1.5},
{"k":"n","t":"L","c":3.41,"r":2.5},{"k":"n","t":"R","c":4.43,"r":2.5},{"k":"n","t":"L","c":5.38,"r":2.5},{"k":"n","t":"R","c":6.44,"r":2.5},{"k":"n","t":"L","c":7.42,"r":2.5},{"k":"n","t":"R","c":8.43,"r":2.5},{"k":"n","t":"L","c":9.43,"r":2.5},{"k":"n","t":"R","c":10.37,"r":2.5},{"k":"n","t":"L","c":11.42,"r":2.5},{"k":"n","t":"R","c":12.37,"r":2.5},{"k":"n","t":"L","c":13.43,"r":2.5},{"k":"n","t":"R","c":14.52,"r":2.5},{"k":"n","t":"L","c":15.37,"r":2.5},{"k":"n","t":"R","c":16.46,"r":2.5},{"k":"n","t":"L","c":17.33,"r":2.5},{"k":"n","t":"R","c":18.41,"r":2.5},{"k":"n","t":"L","c":19.39,"r":2.5},{"k":"n","t":"R","c":20.43,"r":2.5},{"k":"n","t":"L","c":21.34,"r":2.5},{"k":"n","t":"R","c":22.41,"r":2.5},
{"k":"g","t":"EWHD","c":0.76,"r":5},{"k":"g","t":"EWLD","c":0.76,"r":8},{"k":"g","t":"NSLD","c":0.76,"r":10},{"k":"g","t":"NSHD","c":0.76,"r":12.5},
{"k":"s","t":"CS-01","c":1.48,"r":3.5},{"k":"s","t":"CS-02","c":1.48,"r":4.5},{"k":"s","t":"CS-03","c":1.48,"r":5.5},{"k":"s","t":"CS-04","c":1.48,"r":6.5},{"k":"s","t":"CS-11","c":1.48,"r":7.5},{"k":"s","t":"CS-13","c":1.48,"r":8.5},{"k":"s","t":"CS-08","c":1.48,"r":9.5},{"k":"s","t":"CS-10","c":1.48,"r":10.5},{"k":"s","t":"CS-05","c":1.48,"r":11.5},{"k":"s","t":"CS-06","c":1.48,"r":12.5},{"k":"s","t":"CS-07","c":1.48,"r":13.5},
{"k":"b","t":"Legend","c":25.93,"r":7.5},{"k":"l","t":"Poor","c":25.11,"r":8.42},{"k":"l","t":"Bad","c":25.11,"r":9.42},{"k":"l","t":"Neutral","c":25.11,"r":10.42},{"k":"l","t":"Good","c":25.11,"r":11.42},{"k":"l","t":"Excellent","c":25.11,"r":12.42},{"k":"l","t":"No tree on this side","c":25.11,"r":13.4},
{"k":"v","t":"< 0.6","c":26.09,"r":8.52},{"k":"v","t":"0.6 - 0.7","c":26.09,"r":9.52},{"k":"v","t":"0.7 – 0.8","c":26.09,"r":10.52},{"k":"v","t":"0.8 - 0.9","c":26.09,"r":11.52},{"k":"v","t":">= 0.9","c":26.09,"r":12.52},
{"k":"b","t":"Month","c":101.83,"r":15.5},{"k":"b","t":"Time","c":101.83,"r":16.5},{"k":"b","t":"L/R","c":101.83,"r":17.5},{"k":"b","t":"May Day-I","c":108.1,"r":15.5},{"k":"b","t":"May Day-II","c":118.2,"r":15.5},
{"k":"n","t":"8:00","c":103.88,"r":16.5},{"k":"n","t":"10:00","c":105.97,"r":16.5},{"k":"n","t":"12:00","c":107.97,"r":16.5},{"k":"n","t":"14:00","c":110.05,"r":16.5},{"k":"n","t":"16:00","c":112.02,"r":16.5},{"k":"n","t":"8:00","c":113.86,"r":16.5},{"k":"n","t":"10:00","c":115.95,"r":16.5},{"k":"n","t":"12:00","c":117.86,"r":16.5},{"k":"n","t":"14:00","c":119.98,"r":16.5},{"k":"n","t":"16:00","c":121.82,"r":16.5},
{"k":"n","t":"L","c":103.41,"r":17.5},{"k":"n","t":"R","c":104.43,"r":17.5},{"k":"n","t":"L","c":105.38,"r":17.5},{"k":"n","t":"R","c":106.44,"r":17.5},{"k":"n","t":"L","c":107.42,"r":17.5},{"k":"n","t":"R","c":108.43,"r":17.5},{"k":"n","t":"L","c":109.43,"r":17.5},{"k":"n","t":"R","c":110.37,"r":17.5},{"k":"n","t":"L","c":111.42,"r":17.5},{"k":"n","t":"R","c":112.37,"r":17.5},{"k":"n","t":"L","c":113.43,"r":17.5},{"k":"n","t":"R","c":114.52,"r":17.5},{"k":"n","t":"L","c":115.37,"r":17.5},{"k":"n","t":"R","c":116.46,"r":17.5},{"k":"n","t":"L","c":117.33,"r":17.5},{"k":"n","t":"R","c":118.41,"r":17.5},{"k":"n","t":"L","c":119.39,"r":17.5},{"k":"n","t":"R","c":120.43,"r":17.5},{"k":"n","t":"L","c":121.34,"r":17.5},{"k":"n","t":"R","c":122.41,"r":17.5},
{"k":"g","t":"EWHD","c":100.76,"r":20},{"k":"g","t":"EWLD","c":100.76,"r":23},{"k":"g","t":"NSLD","c":100.76,"r":25},{"k":"g","t":"NSHD","c":100.76,"r":27.5},
{"k":"s","t":"CS-01","c":101.48,"r":18.5},{"k":"s","t":"CS-02","c":101.48,"r":19.5},{"k":"s","t":"CS-03","c":101.48,"r":20.5},{"k":"s","t":"CS-04","c":101.48,"r":21.5},{"k":"s","t":"CS-11","c":101.48,"r":22.5},{"k":"s","t":"CS-13","c":101.48,"r":23.5},{"k":"s","t":"CS-08","c":101.48,"r":24.5},{"k":"s","t":"CS-10","c":101.48,"r":25.5},{"k":"s","t":"CS-05","c":101.48,"r":26.5},{"k":"s","t":"CS-06","c":101.48,"r":27.5},{"k":"s","t":"CS-07","c":101.48,"r":28.5},
{"k":"b","t":"Legend","c":125.93,"r":22.5},{"k":"l","t":"Poor","c":125.11,"r":23.42},{"k":"l","t":"Bad","c":125.11,"r":24.42},{"k":"l","t":"Neutral","c":125.11,"r":25.42},{"k":"l","t":"Good","c":125.11,"r":26.42},{"k":"l","t":"Excellent","c":125.11,"r":27.42},{"k":"l","t":"No tree on this side","c":125.11,"r":28.4},
{"k":"v","t":"< 0.6","c":126.09,"r":23.52},{"k":"v","t":"0.6 - 0.7","c":126.09,"r":24.52},{"k":"v","t":"0.7 – 0.8","c":126.09,"r":25.52},{"k":"v","t":"0.8 - 0.9","c":126.09,"r":26.52},{"k":"v","t":">= 0.9","c":126.09,"r":27.52},
{"k":"b","t":"Month","c":201.83,"r":30.5},{"k":"b","t":"Time","c":201.83,"r":31.5},{"k":"b","t":"L/R","c":201.83,"r":32.5},{"k":"b","t":"June Day-I","c":208.1,"r":30.5},{"k":"b","t":"June Day-II","c":218.2,"r":30.5},
{"k":"n","t":"8:00","c":203.88,"r":31.5},{"k":"n","t":"10:00","c":205.97,"r":31.5},{"k":"n","t":"12:00","c":207.97,"r":31.5},{"k":"n","t":"14:00","c":210.05,"r":31.5},{"k":"n","t":"16:00","c":212.02,"r":31.5},{"k":"n","t":"8:00","c":213.86,"r":31.5},{"k":"n","t":"10:00","c":215.95,"r":31.5},{"k":"n","t":"12:00","c":217.86,"r":31.5},{"k":"n","t":"14:00","c":219.98,"r":31.5},{"k":"n","t":"16:00","c":221.82,"r":31.5},
{"k":"n","t":"L","c":203.41,"r":32.5},{"k":"n","t":"R","c":204.43,"r":32.5},{"k":"n","t":"L","c":205.38,"r":32.5},{"k":"n","t":"R","c":206.44,"r":32.5},{"k":"n","t":"L","c":207.42,"r":32.5},{"k":"n","t":"R","c":208.43,"r":32.5},{"k":"n","t":"L","c":209.43,"r":32.5},{"k":"n","t":"R","c":210.37,"r":32.5},{"k":"n","t":"L","c":211.42,"r":32.5},{"k":"n","t":"R","c":212.37,"r":32.5},{"k":"n","t":"L","c":213.43,"r":32.5},{"k":"n","t":"R","c":214.52,"r":32.5},{"k":"n","t":"L","c":215.37,"r":32.5},{"k":"n","t":"R","c":216.46,"r":32.5},{"k":"n","t":"L","c":217.33,"r":32.5},{"k":"n","t":"R","c":218.41,"r":32.5},{"k":"n","t":"L","c":219.39,"r":32.5},{"k":"n","t":"R","c":220.43,"r":32.5},{"k":"n","t":"L","c":221.34,"r":32.5},{"k":"n","t":"R","c":222.41,"r":32.5},
{"k":"g","t":"EWHD","c":200.76,"r":35},{"k":"g","t":"EWLD","c":200.76,"r":38},{"k":"g","t":"NSLD","c":200.76,"r":40},{"k":"g","t":"NSHD","c":200.76,"r":42.5},
{"k":"s","t":"CS-01","c":201.48,"r":33.5},{"k":"s","t":"CS-02","c":201.48,"r":34.5},{"k":"s","t":"CS-03","c":201.48,"r":35.5},{"k":"s","t":"CS-04","c":201.48,"r":36.5},{"k":"s","t":"CS-11","c":201.48,"r":37.5},{"k":"s","t":"CS-13","c":201.48,"r":38.5},{"k":"s","t":"CS-08","c":201.48,"r":39.5},{"k":"s","t":"CS-10","c":201.48,"r":40.5},{"k":"s","t":"CS-05","c":201.48,"r":41.5},{"k":"s","t":"CS-06","c":201.48,"r":42.5},{"k":"s","t":"CS-07","c":201.48,"r":43.5},
{"k":"b","t":"Legend","c":225.93,"r":37.5},{"k":"l","t":"Poor","c":225.11,"r":38.42},{"k":"l","t":"Bad","c":225.11,"r":39.42},{"k":"l","t":"Neutral","c":225.11,"r":40.42},{"k":"l","t":"Good","c":225.11,"r":41.42},{"k":"l","t":"Excellent","c":225.11,"r":42.42},{"k":"l","t":"No tree on this side","c":225.11,"r":43.4},
{"k":"v","t":"< 0.6","c":226.09,"r":38.52},{"k":"v","t":"0.6 - 0.7","c":226.09,"r":39.52},{"k":"v","t":"0.7 – 0.8","c":226.09,"r":40.52},{"k":"v","t":"0.8 - 0.9","c":226.09,"r":41.52},{"k":"v","t":">= 0.9","c":226.09,"r":42.52}
]
},
"encoding":{
"x":{"field":"c","type":"quantitative","axis":null,"scale":{"nice":false,"zero":false,
"domain":[0,1,2,3,4,5,6,7,8,9,10,11,12,13,14,15,16,17,18,19,20,21,22,23,24,25,26,27,100,101,102,103,104,105,106,107,108,109,110,111,112,113,114,115,116,117,118,119,120,121,122,123,124,125,126,127,200,201,202,203,204,205,206,207,208,209,210,211,212,213,214,215,216,217,218,219,220,221,222,223,224,225,226,227],
"range":[9.4,41.4,114,193.4,226.5,263.4,299.9,334.8,371.7,408.2,441.7,481.2,516.2,557.2,591.9,621.9,659.4,694.1,735.6,774.4,810.3,846.6,890.1,928.4,949.6,985.5,1071,1180,5.3,37.6,111.4,190.7,224.6,261.5,298.7,334,371.3,408.2,441.7,481.9,517.3,558.9,593.9,623.9,662.2,697.3,738.8,777.5,814.3,851.4,895.3,933.6,955.2,991.5,1077.3,1180,6.8,38.4,111.7,191.5,225.4,262.2,299,334,371.3,408.2,441.7,481.2,516.9,558.3,593.5,623.5,661.8,696.5,738,776.7,813.5,850.2,893.7,932.4,954,989.9,1075.7,1180]}},
"y":{"field":"r","type":"quantitative","axis":null,"scale":{"nice":false,"zero":false,
"domain":[0,1,2,3,4,5,6,7,8,9,10,11,12,13,14,15,16,17,18,19,20,21,22,23,24,25,26,27,28,29,30,31,32,33,34,35,36,37,38,39,40,41,42,43,44],
"range":[9.3,46.5,84,121.2,159,196.3,234.2,271.3,308.9,346.4,384,421,458.7,496.2,534,546.9,585.1,623,660.9,699,737,775.2,813,851,888.8,926.7,964.6,1002.5,1040.4,1078,1088.5,1125.9,1163.6,1201.3,1239,1276.8,1314.5,1352.3,1390,1427.7,1465.8,1503.2,1541.3,1579,1616]}}
},
"layer":[
{"data":{"name":"boxes"},"mark":{"type":"rect","filled":false,"stroke":"#5f5f5f","strokeWidth":1},"encoding":{"x2":{"field":"c2"},"y2":{"field":"r2"}}},
{"data":{"name":"columns"},"mark":{"type":"rect","filled":false,"stroke":"#5f5f5f","strokeWidth":1},"encoding":{"x2":{"field":"c2"},"y2":{"field":"r2"}}},
{"data":{"name":"sites"},"mark":{"type":"rect","filled":false,"stroke":"#5f5f5f","strokeWidth":1},"encoding":{"x2":{"field":"c2"},"y2":{"field":"r2"}}},
{"data":{"name":"cells"},"transform":[{"lookup":"c","from":{"data":{"name":"columns"},"key":"c","fields":["c2"]}},{"lookup":"r","from":{"data":{"name":"sites"},"key":"r","fields":["r2"]}}],"mark":{"type":"rect","stroke":"#3a3a3a","strokeWidth":1},"encoding":{"x2":{"field":"c2"},"y2":{"field":"r2"},"color":{"field":"v","type":"nominal","legend":null,"scale":{"domain":["Poor","Bad","Neutral","Good","Excellent","None"],"range":["#FFC000","#FFFF00","#CCFF99","#99CC33","#00B050","#000000"]}}}},
{"data":{"name":"swatches"},"mark":{"type":"rect","stroke":"#5f5f5f","strokeWidth":1},"encoding":{"x2":{"field":"c2"},"y2":{"field":"r2"},"color":{"field":"v","type":"nominal","legend":null}}},
{"data":{"name":"sites"},"transform":[{"filter":"datum.site!='CS-11'"}],"mark":{"type":"rule","color":"#111111","strokeWidth":2.2,"xOffset":91.4,"x2Offset":135.8,"yOffset":30.6},"encoding":{"x2":{"field":"c"}}},
{"data":{"name":"sites"},"transform":[{"filter":"datum.site=='CS-11'"}],"mark":{"type":"rule","color":"#111111","strokeWidth":2.2,"xOffset":87.4,"x2Offset":131.8,"yOffset":30.6},"encoding":{"x2":{"field":"c"}}},
{"data":{"name":"sites"},"transform":[{"filter":"datum.L==1"}],"mark":{"type":"rule","color":"#7a4a1e","strokeWidth":3,"xOffset":92.5,"yOffset":15,"y2Offset":31},"encoding":{"y2":{"field":"r"}}},
{"data":{"name":"sites"},"transform":[{"filter":"datum.R==1&&datum.site!='CS-11'"}],"mark":{"type":"rule","color":"#7a4a1e","strokeWidth":3,"xOffset":134.5,"yOffset":15,"y2Offset":31},"encoding":{"y2":{"field":"r"}}},
{"data":{"name":"sites"},"transform":[{"filter":"datum.site=='CS-11'"}],"mark":{"type":"rule","color":"#7a4a1e","strokeWidth":3,"xOffset":130.5,"yOffset":15,"y2Offset":31},"encoding":{"y2":{"field":"r"}}},
{"data":{"name":"sites"},"transform":[{"filter":"datum.L==1"}],"mark":{"type":"point","filled":true,"opacity":1,"color":"#00a04e","size":361,"shape":"M-1,0A1,0.45 0 1 1 1,0A1,0.45 0 1 1 -1,0Z","xOffset":92.5,"yOffset":14.8}},
{"data":{"name":"sites"},"transform":[{"filter":"datum.R==1&&datum.site!='CS-11'"}],"mark":{"type":"point","filled":true,"opacity":1,"color":"#00a04e","size":300,"shape":"M-1,0A1,0.5 0 1 1 1,0A1,0.5 0 1 1 -1,0Z","xOffset":134.5,"yOffset":14.8}},
{"data":{"name":"sites"},"transform":[{"filter":"datum.site=='CS-11'"}],"mark":{"type":"point","filled":true,"opacity":1,"color":"#00a04e","size":300,"shape":"M-1,0A1,0.5 0 1 1 1,0A1,0.5 0 1 1 -1,0Z","xOffset":130.5,"yOffset":14.8}},
{"data":{"name":"labels"},"transform":[{"filter":"datum.k=='b'"}],"mark":{"type":"text","font":"Lato","fontWeight":"bold","fontSize":21,"color":"#111111","baseline":"middle","align":"center","dy":1},"encoding":{"text":{"field":"t"}}},
{"data":{"name":"labels"},"transform":[{"filter":"datum.k=='s'"}],"mark":{"type":"text","font":"Lato","fontWeight":"bold","fontSize":19.7,"color":"#111111","baseline":"middle","align":"center","dy":1},"encoding":{"text":{"field":"t"}}},
{"data":{"name":"labels"},"transform":[{"filter":"datum.k=='g'"}],"mark":{"type":"text","font":"Lato","fontWeight":"bold","fontSize":20,"color":"#111111","baseline":"middle","align":"center","angle":270},"encoding":{"text":{"field":"t"}}},
{"data":{"name":"labels"},"transform":[{"filter":"datum.k=='n'"}],"mark":{"type":"text","font":"Lato","fontSize":19.7,"color":"#222222","baseline":"middle","align":"center","dy":1},"encoding":{"text":{"field":"t"}}},
{"data":{"name":"labels"},"transform":[{"filter":"datum.k=='l'"}],"mark":{"type":"text","font":"Lato","fontSize":16.3,"color":"#404040","baseline":"middle","align":"left"},"encoding":{"text":{"field":"t"}}},
{"data":{"name":"labels"},"transform":[{"filter":"datum.k=='v'"}],"mark":{"type":"text","font":"Lato","fontSize":13.5,"color":"#404040","baseline":"middle","align":"left"},"encoding":{"text":{"field":"t"}}}
]}
